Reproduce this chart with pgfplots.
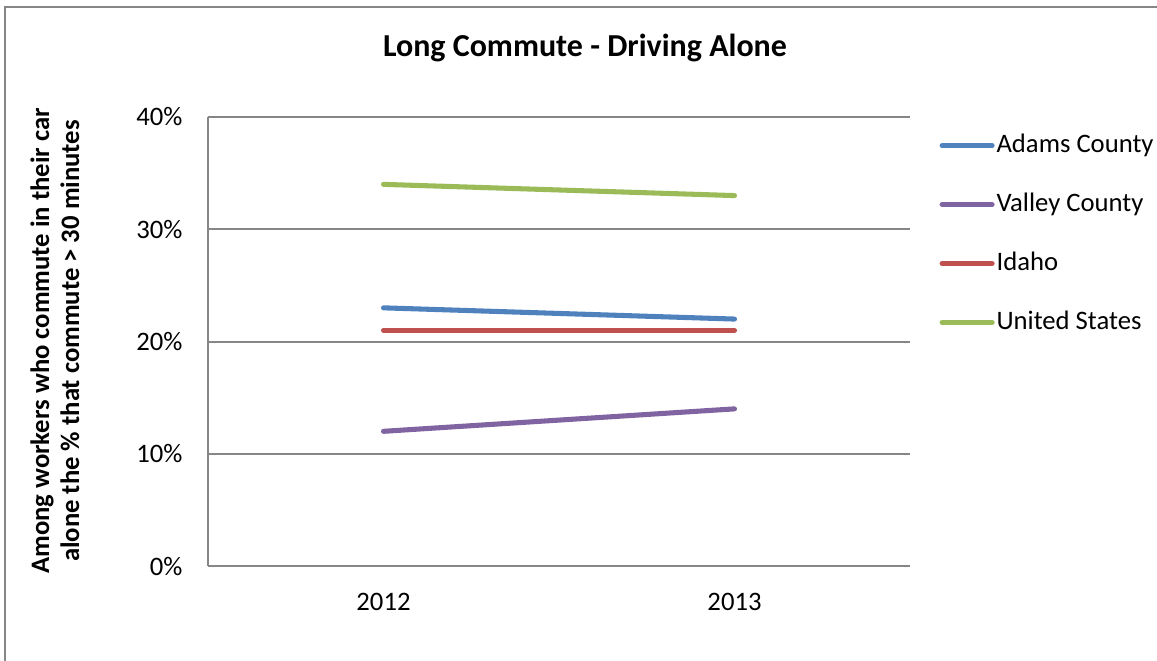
\documentclass[border=0pt]{standalone}
\usepackage{pgfplots}
\pgfplotsset{compat=1.18}
\usepackage{fontspec}
\setmainfont{Carlito}
\definecolor{cblue}{HTML}{4F81BD}
\definecolor{cpurple}{HTML}{8064A2}
\definecolor{cred}{HTML}{C0504D}
\definecolor{cgreen}{HTML}{9BBB59}
\definecolor{gline}{RGB}{134,134,134}
\begin{document}
\begin{tikzpicture}
\begin{scope}[x=0.375pt,y=0.375pt]
\draw[gline, line width=0.75pt] (5,-1) -- (5,653) -- (1158,653);
\node[font=\fontsize{12}{14}\selectfont\bfseries] at (585,612) {Long Commute - Driving Alone};
\node[font=\fontsize{10}{11.25}\selectfont\bfseries, rotate=90, align=center] at (55,319) {Among workers who commute in their car\\alone the \% that commute > 30 minutes};
\end{scope}
\begin{axis}[
  at={(78pt,35.25pt)}, anchor=south west,
  scale only axis, width=263.25pt, height=168.375pt,
  xmin=-0.5, xmax=1.5, ymin=0, ymax=40,
  xtick={0,1}, xticklabels={2012,2013},
  ytick={0,10,20,30,40},
  yticklabel={\pgfmathprintnumber{\tick}\%},
  /pgf/number format/assume math mode=true,
  axis x line*=bottom, axis y line*=left,
  axis line style={gline, line width=0.75pt, -},
  ymajorgrids, grid style={gline, line width=0.75pt},
  major tick length=0pt,
  tick label style={font=\fontsize{10}{12}\selectfont, inner sep=0pt},
  yticklabel style={anchor=east, xshift=-9.4pt},
  xticklabel style={anchor=north, yshift=-10pt},
  legend style={draw=none, fill=none, at={(1.03,0.976)}, anchor=north west,
    font=\fontsize{10}{12}\selectfont, row sep=13.1pt,
    nodes={inner xsep=0pt, inner ysep=0pt, text height=7pt, text depth=2pt}},
  legend cell align=left,
  legend image code/.code={\draw[#1] (0pt,0pt) -- (18.75pt,0pt);},
  every axis plot/.append style={line width=1.9pt, line cap=round},
  clip=false,
]
\addplot[cblue] coordinates {(0,23) (1,22)};
\addlegendentry{\hspace{0.7pt}Adams County}
\addplot[cpurple] coordinates {(0,12) (1,14)};
\addlegendentry{\hspace{0.7pt}Valley County}
\addplot[cred] coordinates {(0,21) (1,21)};
\addlegendentry{\hspace{0.7pt}Idaho}
\addplot[cgreen] coordinates {(0,34) (1,33)};
\addlegendentry{\hspace{0.7pt}United States}
\end{axis}
\pgfresetboundingbox
\useasboundingbox (0pt,0pt) rectangle (433.875pt,247.5pt);
\end{tikzpicture}
\end{document}
